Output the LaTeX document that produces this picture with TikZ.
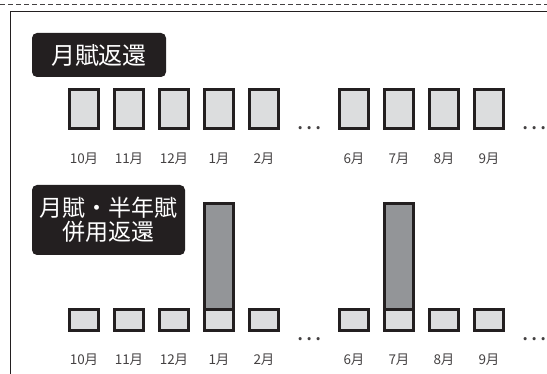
\documentclass[tikz,border=0pt]{standalone}
\usepackage{fontspec}
\setmainfont{Noto Sans CJK JP}
\usepackage{xcolor}
\usepackage{tikz}
\usetikzlibrary{positioning}

\definecolor{inkblack}{HTML}{231F20}
\definecolor{lightbox}{HTML}{DCDDDE}
\definecolor{darkbar}{HTML}{939598}

\tikzset{
    payment/.style={draw=inkblack, line width=3pt, fill=lightbox, minimum width=29pt, inner sep=0pt, outer sep=0pt},
    bonus/.style={payment, fill=darkbar},
    tag/.style={fill=inkblack, text=white, rounded corners=5pt, inner sep=0pt, align=center},
    month/.style={font=\fontsize{13.5}{13.5}\selectfont, text=inkblack!85},
    gap/.style={font=\fontsize{24}{24}\selectfont, text=inkblack!85, inner sep=0pt}
}

\begin{document}
\begin{tikzpicture}[x=1pt, y=-1pt]
    \useasboundingbox (0,0) rectangle (547,374);
    % frame
    \draw[inkblack!85, line width=0.8pt, dash pattern=on 5pt off 3pt] (0,4) -- (547,4);
    \draw[inkblack, line width=1pt] (10,374) -- (10,12) -- (547,12);

    % headings
    \node[tag, minimum width=134pt, minimum height=44pt, font=\fontsize{24}{24}\selectfont] (monthly) at (99,55) {月賦返還};
    \node[tag, minimum width=153pt, minimum height=70pt, font=\fontsize{23}{24}\selectfont] (combined) at (108.5,220) {月賦・半年賦\\併用返還};

    % payments
    \foreach \i/\m in {0/10,1/11,2/12,3/1,4/2,6/6,7/7,8/8,9/9} {
        \node[payment, minimum height=39pt] (t\m) at (84+45*\i,109) {};
        \node[month] (tl\m) at (84+45*\i,159) {\m 月};
        \node[payment, minimum height=21pt] (b\m) at (84+45*\i,320) {};
        \node[month] (bl\m) at (84+45*\i,360) {\m 月};
    }

    % half-year extra
    \node[bonus, minimum height=106pt, anchor=south] (h1) at (b1.north) {};
    \node[bonus, minimum height=106pt, anchor=south] (h7) at (b7.north) {};

    % gaps
    \node[gap] (td1) at (309,128) {…};
    \node[gap] (td2) at (534,128) {…};
    \node[gap] (bd1) at (309,339) {…};
    \node[gap] (bd2) at (534,339) {…};
\end{tikzpicture}
\end{document}
